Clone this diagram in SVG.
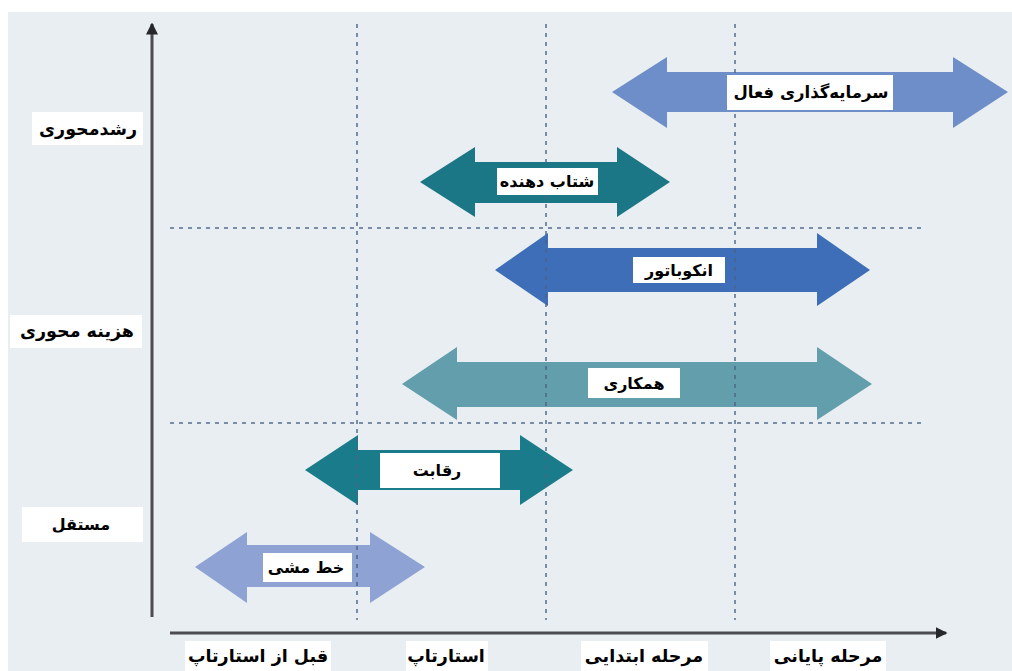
<svg xmlns="http://www.w3.org/2000/svg" width="1012" height="671" viewBox="0 0 1012 671">
<defs>
<style>
.bg{fill:#e8eef1}
.axis{stroke:#4a4c52;stroke-width:3;fill:none}
.grid{stroke:#4a6485;stroke-width:2;stroke-dasharray:4 5;fill:none;opacity:0.7}
.box{fill:#ffffff}
.lbl{font-family:"DejaVu Sans","Noto Sans",sans-serif;font-weight:bold;font-size:16px;fill:#000;text-anchor:middle;dominant-baseline:central}
.big{font-size:17.5px}
</style>
<marker id="ah" markerWidth="4" markerHeight="4" refX="3.5" refY="2" orient="auto" markerUnits="strokeWidth">
<path d="M0,0 L4,2 L0,4 z" fill="#25272b"/>
</marker>
</defs>
<rect x="0" y="0" width="1012" height="671" fill="#ffffff"/>
<rect class="bg" x="8" y="12" width="1004" height="659"/>

<g id="axes">
<line class="axis" x1="152" y1="617" x2="152" y2="24" marker-end="url(#ah)"/>
<line class="axis" x1="170" y1="633" x2="946" y2="633" marker-end="url(#ah)"/>
</g>

<g id="arrow-investment">
<path d="M612,92 L667,57 L667,72 L953,72 L953,57 L1008,92 L953,128 L953,112 L667,112 L667,128 Z" fill="#6e8ec9"/>
</g>
<g id="arrow-accelerator">
<path d="M420,182 L475,147 L475,162 L617,162 L617,147 L670,182 L617,217 L617,203 L475,203 L475,217 Z" fill="#1b7686"/>
</g>
<g id="arrow-incubator">
<path d="M495,270 L548,233 L548,248 L817,248 L817,233 L870,270 L817,306 L817,292 L548,292 L548,306 Z" fill="#3d6eb7"/>
</g>
<g id="arrow-cooperation">
<path d="M402,384 L457,347 L457,362 L817,362 L817,347 L872,384 L817,420 L817,407 L457,407 L457,420 Z" fill="#639ead"/>
</g>
<g id="arrow-competition">
<path d="M305,470 L358,435 L358,450 L520,450 L520,435 L573,470 L520,505 L520,490 L358,490 L358,505 Z" fill="#1a7b8b"/>
</g>
<g id="arrow-policy">
<path d="M195,567 L247,532 L247,545 L370,545 L370,532 L425,567 L370,603 L370,587 L247,587 L247,603 Z" fill="#8fa2d4"/>
</g>

<g id="connectors">
<line class="grid" x1="357" y1="24" x2="357" y2="620"/>
<line class="grid" x1="546" y1="24" x2="546" y2="620"/>
<line class="grid" x1="735" y1="24" x2="735" y2="620"/>
<line class="grid" x1="170" y1="228" x2="925" y2="228"/>
<line class="grid" x1="170" y1="423" x2="925" y2="423"/>
</g>

<g id="label-investment"><rect class="box" x="727" y="75" width="166" height="35"/><text class="lbl" x="811" y="92" style="font-size:16.5px">سرمایه‌گذاری فعال</text></g>
<g id="label-accelerator"><rect class="box" x="497" y="168" width="101" height="27"/><text class="lbl" x="547" y="181">شتاب دهنده</text></g>
<g id="label-incubator"><rect class="box" x="633" y="257" width="92" height="26"/><text class="lbl" x="679" y="270">انکوباتور</text></g>
<g id="label-cooperation"><rect class="box" x="588" y="368" width="92" height="30"/><text class="lbl" x="634" y="383">همکاری</text></g>
<g id="label-competition"><rect class="box" x="380" y="453" width="120" height="35"/><text class="lbl" x="437" y="470">رقابت</text></g>
<g id="label-policy"><rect class="box" x="263" y="553" width="89" height="29"/><text class="lbl" x="306" y="567">خط مشی</text></g>

<g id="ylabel-growth"><rect class="box" x="32" y="112" width="111" height="33"/><text class="lbl big" x="88" y="129">رشدمحوری</text></g>
<g id="ylabel-cost"><rect class="box" x="10" y="315" width="132" height="33"/><text class="lbl big" x="77" y="331">هزینه محوری</text></g>
<g id="ylabel-independent"><rect class="box" x="22" y="507" width="121" height="35"/><text class="lbl" x="81" y="524">مستقل</text></g>

<g id="xlabel-prestartup"><rect class="box" x="185" y="641" width="146" height="30"/><text class="lbl big" x="258" y="656">قبل از استارتاپ</text></g>
<g id="xlabel-startup"><rect class="box" x="406" y="641" width="82" height="30"/><text class="lbl big" x="446" y="656">استارتاپ</text></g>
<g id="xlabel-early"><rect class="box" x="581" y="641" width="127" height="30"/><text class="lbl big" x="644" y="656">مرحله ابتدایی</text></g>
<g id="xlabel-late"><rect class="box" x="770" y="641" width="116" height="30"/><text class="lbl big" x="828" y="656">مرحله پایانی</text></g>
</svg>
